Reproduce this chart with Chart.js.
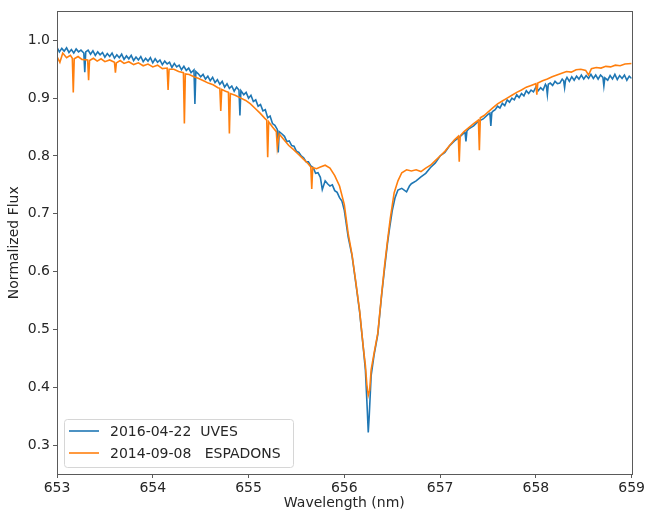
<!DOCTYPE html>
<html>
<head>
<meta charset="utf-8">
<script src="https://cdn.jsdelivr.net/npm/chart.js@4.4.0/dist/chart.umd.min.js"></script>
<style>
  html, body { margin: 0; padding: 0; background: #fff; }
  #wrap { width: 647px; height: 516px; }
</style>
</head>
<body>
<div id="wrap"><canvas id="spectrum" width="647" height="516"></canvas></div>
<script>
// Series labels
var uvesLabel = '2016-04-22  UVES';
var espLabel = '2014-09-08   ESPADONS';

// UVES spectrum
var uvesWave = [
  653.000, 653.025, 653.050, 653.075, 653.100, 653.125, 653.150, 653.175, 653.200, 653.225,
  653.250, 653.280, 653.290, 653.300, 653.325, 653.350, 653.375, 653.400, 653.425, 653.450,
  653.475, 653.500, 653.525, 653.550, 653.575, 653.600, 653.625, 653.650, 653.675, 653.700,
  653.725, 653.750, 653.775, 653.800, 653.825, 653.850, 653.875, 653.900, 653.925, 653.950,
  653.975, 654.000, 654.025, 654.050, 654.075, 654.100, 654.125, 654.150, 654.175, 654.200,
  654.225, 654.250, 654.275, 654.300, 654.325, 654.350, 654.375, 654.400, 654.430, 654.440,
  654.450, 654.475, 654.500, 654.525, 654.550, 654.575, 654.600, 654.625, 654.650, 654.675,
  654.700, 654.725, 654.750, 654.775, 654.800, 654.825, 654.850, 654.875, 654.900, 654.910,
  654.920, 654.950, 654.975, 655.000, 655.025, 655.050, 655.075, 655.100, 655.125, 655.150,
  655.175, 655.200, 655.225, 655.250, 655.275, 655.300, 655.310, 655.320, 655.350, 655.375,
  655.400, 655.425, 655.450, 655.475, 655.500, 655.525, 655.550, 655.575, 655.600, 655.625,
  655.650, 655.675, 655.700, 655.725, 655.750, 655.770, 655.800, 655.825, 655.850, 655.875,
  655.900, 655.925, 655.950, 655.975, 656.000, 656.040, 656.080, 656.120, 656.160, 656.200,
  656.220, 656.240, 656.250, 656.260, 656.280, 656.310, 656.350, 656.390, 656.420, 656.450,
  656.470, 656.500, 656.530, 656.560, 656.600, 656.650, 656.680, 656.700, 656.750, 656.800,
  656.850, 656.900, 656.950, 657.000, 657.050, 657.100, 657.150, 657.200, 657.250, 657.260,
  657.270, 657.280, 657.300, 657.350, 657.400, 657.450, 657.500, 657.520, 657.530, 657.540,
  657.550, 657.575, 657.600, 657.625, 657.650, 657.675, 657.700, 657.725, 657.750, 657.775,
  657.800, 657.825, 657.850, 657.875, 657.900, 657.925, 657.950, 657.975, 658.000, 658.025,
  658.050, 658.075, 658.100, 658.110, 658.120, 658.130, 658.150, 658.175, 658.200, 658.225,
  658.250, 658.275, 658.290, 658.300, 658.310, 658.325, 658.350, 658.375, 658.400, 658.425,
  658.450, 658.475, 658.500, 658.525, 658.550, 658.575, 658.600, 658.625, 658.650, 658.675,
  658.700, 658.710, 658.720, 658.750, 658.775, 658.800, 658.825, 658.850, 658.875, 658.900,
  658.925, 658.950, 658.975, 659.000
];
var uvesFlux = [
  0.988, 0.980, 0.986, 0.981, 0.987, 0.979, 0.984, 0.978, 0.985, 0.980,
  0.983, 0.978, 0.945, 0.980, 0.983, 0.976, 0.982, 0.974, 0.980, 0.975,
  0.979, 0.971, 0.977, 0.972, 0.978, 0.969, 0.975, 0.970, 0.976, 0.967,
  0.973, 0.968, 0.974, 0.965, 0.971, 0.966, 0.972, 0.963, 0.969, 0.964,
  0.970, 0.961, 0.968, 0.962, 0.966, 0.958, 0.964, 0.959, 0.962, 0.953,
  0.960, 0.954, 0.957, 0.949, 0.955, 0.948, 0.952, 0.944, 0.949, 0.890,
  0.946, 0.942, 0.937, 0.941, 0.933, 0.938, 0.930, 0.936, 0.927, 0.932,
  0.924, 0.929, 0.919, 0.925, 0.917, 0.921, 0.912, 0.919, 0.914, 0.870,
  0.913, 0.906, 0.910, 0.900, 0.905, 0.894, 0.897, 0.886, 0.889, 0.878,
  0.880, 0.866, 0.869, 0.856, 0.853, 0.846, 0.806, 0.842, 0.838, 0.834,
  0.825, 0.826, 0.818, 0.817, 0.808, 0.806, 0.800, 0.797, 0.790, 0.790,
  0.783, 0.780, 0.770, 0.771, 0.763, 0.742, 0.757, 0.752, 0.748, 0.750,
  0.740, 0.737, 0.728, 0.722, 0.706, 0.660, 0.628, 0.580, 0.530, 0.465,
  0.430, 0.360, 0.322, 0.350, 0.420, 0.455, 0.492, 0.560, 0.605, 0.648,
  0.672, 0.705, 0.728, 0.741, 0.744, 0.738, 0.748, 0.752, 0.757, 0.764,
  0.770, 0.780, 0.788, 0.800, 0.806, 0.818, 0.826, 0.832, 0.840, 0.842,
  0.825, 0.843, 0.847, 0.852, 0.860, 0.864, 0.872, 0.874, 0.852, 0.875,
  0.877, 0.880, 0.886, 0.883, 0.891, 0.887, 0.897, 0.893, 0.900, 0.897,
  0.906, 0.901, 0.908, 0.904, 0.913, 0.908, 0.914, 0.911, 0.919, 0.913,
  0.918, 0.914, 0.924, 0.921, 0.906, 0.924, 0.926, 0.922, 0.929, 0.925,
  0.926, 0.933, 0.930, 0.918, 0.931, 0.936, 0.929, 0.937, 0.931, 0.938,
  0.933, 0.940, 0.933, 0.939, 0.934, 0.941, 0.934, 0.940, 0.933, 0.940,
  0.936, 0.921, 0.935, 0.931, 0.939, 0.933, 0.941, 0.932, 0.939, 0.934,
  0.940, 0.931, 0.938, 0.934
];

// ESPaDOnS spectrum
var espWave = [
  653.00, 653.03, 653.06, 653.10, 653.14, 653.16, 653.17, 653.18, 653.22, 653.26,
  653.32, 653.33, 653.34, 653.38, 653.42, 653.46, 653.50, 653.55, 653.60, 653.61,
  653.62, 653.66, 653.70, 653.75, 653.80, 653.85, 653.90, 653.95, 654.00, 654.05,
  654.10, 654.15, 654.16, 654.17, 654.22, 654.27, 654.32, 654.33, 654.34, 654.38,
  654.43, 654.48, 654.53, 654.58, 654.63, 654.68, 654.70, 654.71, 654.72, 654.76,
  654.79, 654.80, 654.81, 654.86, 654.92, 654.97, 655.02, 655.07, 655.12, 655.17,
  655.19, 655.20, 655.21, 655.25, 655.29, 655.30, 655.32, 655.37, 655.42, 655.47,
  655.52, 655.57, 655.62, 655.65, 655.66, 655.67, 655.71, 655.75, 655.80, 655.85,
  655.90, 655.95, 656.00, 656.04, 656.08, 656.12, 656.16, 656.20, 656.22, 656.235,
  656.25, 656.265, 656.28, 656.31, 656.35, 656.39, 656.42, 656.45, 656.48, 656.52,
  656.56, 656.60, 656.65, 656.70, 656.75, 656.80, 656.85, 656.90, 656.95, 657.00,
  657.05, 657.10, 657.15, 657.19, 657.20, 657.21, 657.25, 657.30, 657.35, 657.40,
  657.41, 657.42, 657.46, 657.50, 657.55, 657.60, 657.65, 657.70, 657.75, 657.80,
  657.85, 657.90, 657.95, 658.00, 658.01, 658.02, 658.07, 658.12, 658.17, 658.22,
  658.27, 658.32, 658.37, 658.42, 658.47, 658.52, 658.55, 658.58, 658.63, 658.68,
  658.73, 658.78, 658.83, 658.88, 658.93, 659.00
];
var espFlux = [
  0.972, 0.962, 0.978, 0.970, 0.974, 0.969, 0.910, 0.968, 0.972, 0.967,
  0.966, 0.931, 0.965, 0.969, 0.964, 0.968, 0.963, 0.966, 0.962, 0.944,
  0.961, 0.965, 0.960, 0.963, 0.958, 0.961, 0.956, 0.959, 0.954, 0.957,
  0.951, 0.952, 0.914, 0.950, 0.950, 0.946, 0.944, 0.856, 0.942, 0.941,
  0.937, 0.934, 0.930, 0.926, 0.923, 0.918, 0.917, 0.878, 0.915, 0.912,
  0.910, 0.839, 0.908, 0.905, 0.900, 0.896, 0.890, 0.882, 0.874, 0.865,
  0.862, 0.798, 0.859, 0.850, 0.842, 0.815, 0.838, 0.828, 0.818, 0.811,
  0.803, 0.795, 0.787, 0.781, 0.743, 0.780, 0.778, 0.781, 0.784, 0.779,
  0.766, 0.748, 0.716, 0.666, 0.630, 0.582, 0.532, 0.466, 0.438, 0.405,
  0.386, 0.395, 0.430, 0.458, 0.494, 0.562, 0.610, 0.652, 0.692, 0.736,
  0.757, 0.771, 0.776, 0.774, 0.776, 0.773, 0.779, 0.784, 0.792, 0.800,
  0.808, 0.818, 0.828, 0.834, 0.790, 0.835, 0.842, 0.849, 0.856, 0.862,
  0.810, 0.866, 0.870, 0.876, 0.883, 0.890, 0.895, 0.900, 0.905, 0.910,
  0.914, 0.919, 0.922, 0.925, 0.906, 0.926, 0.930, 0.933, 0.937, 0.940,
  0.943, 0.946, 0.945, 0.949, 0.950, 0.948, 0.940, 0.951, 0.953, 0.952,
  0.955, 0.954, 0.957, 0.956, 0.959, 0.960
];

// Tick labels
var xTicks = [653, 654, 655, 656, 657, 658, 659];
var yTicks = [0.3, 0.4, 0.5, 0.6, 0.7, 0.8, 0.9, 1.0];

function toPoints(wave, flux) {
  return wave.map(function (w, i) { return { x: w, y: flux[i] }; });
}

var fontFamily = "'DejaVu Sans', sans-serif";
var textColor = '#262626';
var axisColor = '#5a5a5a';

// Frame around the plot area (matplotlib style spines)
var framePlugin = {
  id: 'frame',
  afterDatasetsDraw: function (chart) {
    var a = chart.chartArea;
    var c = chart.ctx;
    c.save();
    c.strokeStyle = axisColor;
    c.lineWidth = 1;
    c.strokeRect(Math.round(a.left) + 0.5, Math.round(a.top) + 0.5,
      Math.round(a.right - a.left), Math.round(a.bottom - a.top));
    c.restore();
  }
};

// Legend box in the lower left corner of the plot
var legendPlugin = {
  id: 'cornerLegend',
  afterDraw: function (chart) {
    var a = chart.chartArea;
    var c = chart.ctx;
    var rows = [chart.data.datasets[0], chart.data.datasets[1]];
    var boxX = a.left + 7, boxW = 229, boxH = 48;
    var boxY = a.bottom - 7 - boxH;
    c.save();
    c.beginPath();
    c.roundRect(boxX + 0.5, boxY + 0.5, boxW, boxH, 3);
    c.fillStyle = 'rgba(255,255,255,0.8)';
    c.fill();
    c.strokeStyle = '#d6d6d6';
    c.lineWidth = 1;
    c.stroke();
    c.font = '14px ' + fontFamily;
    c.textBaseline = 'middle';
    rows.forEach(function (ds, i) {
      var y = boxY + 12 + i * 22;
      c.strokeStyle = ds.borderColor;
      c.lineWidth = 1.6;
      c.beginPath();
      c.moveTo(boxX + 5, y);
      c.lineTo(boxX + 35, y);
      c.stroke();
      c.fillStyle = textColor;
      c.fillText(ds.label, boxX + 46, y + 1);
    });
    c.restore();
  }
};

var chart = new Chart(document.getElementById('spectrum'), {
  type: 'line',
  data: {
    datasets: [
      {
        label: uvesLabel,
        data: toPoints(uvesWave, uvesFlux),
        borderColor: '#1f77b4',
        borderWidth: 1.6,
        pointRadius: 0,
        tension: 0,
        fill: false,
        order: 1
      },
      {
        label: espLabel,
        data: toPoints(espWave, espFlux),
        borderColor: '#ff7f0e',
        borderWidth: 1.6,
        pointRadius: 0,
        tension: 0,
        fill: false,
        order: 0
      }
    ]
  },
  options: {
    responsive: false,
    animation: false,
    devicePixelRatio: 1,
    layout: { padding: { top: 7, right: 12, left: 0, bottom: 0 } },
    plugins: {
      legend: { display: false },
      tooltip: { enabled: false }
    },
    scales: {
      x: {
        type: 'linear',
        min: 653,
        max: 659,
        afterBuildTicks: function (scale) {
          scale.ticks = xTicks.map(function (v) { return { value: v }; });
        },
        afterFit: function (scale) { scale.height = 42; },
        ticks: {
          color: textColor,
          font: { family: fontFamily, size: 14 },
          padding: 2,
          maxRotation: 0,
          callback: function (v) { return String(v); }
        },
        grid: {
          drawOnChartArea: false,
          color: axisColor,
          tickLength: 4
        },
        border: { display: false },
        title: {
          display: true,
          text: 'Wavelength (nm)',
          color: textColor,
          font: { family: fontFamily, size: 14 },
          padding: { top: 0, bottom: 4 }
        }
      },
      y: {
        type: 'linear',
        min: 0.25,
        max: 1.05,
        afterBuildTicks: function (scale) {
          scale.ticks = yTicks.map(function (v) { return { value: v }; });
        },
        afterFit: function (scale) { scale.width = 57; },
        ticks: {
          color: textColor,
          font: { family: fontFamily, size: 14 },
          padding: 3,
          callback: function (v) { return Number(v).toFixed(1); }
        },
        grid: {
          drawOnChartArea: false,
          color: axisColor,
          tickLength: 4
        },
        border: { display: false },
        title: {
          display: true,
          text: 'Normalized Flux',
          color: textColor,
          font: { family: fontFamily, size: 14 },
          padding: { top: 6, bottom: 0 }
        }
      }
    }
  },
  plugins: [framePlugin, legendPlugin]
});
</script>
</body>
</html>
